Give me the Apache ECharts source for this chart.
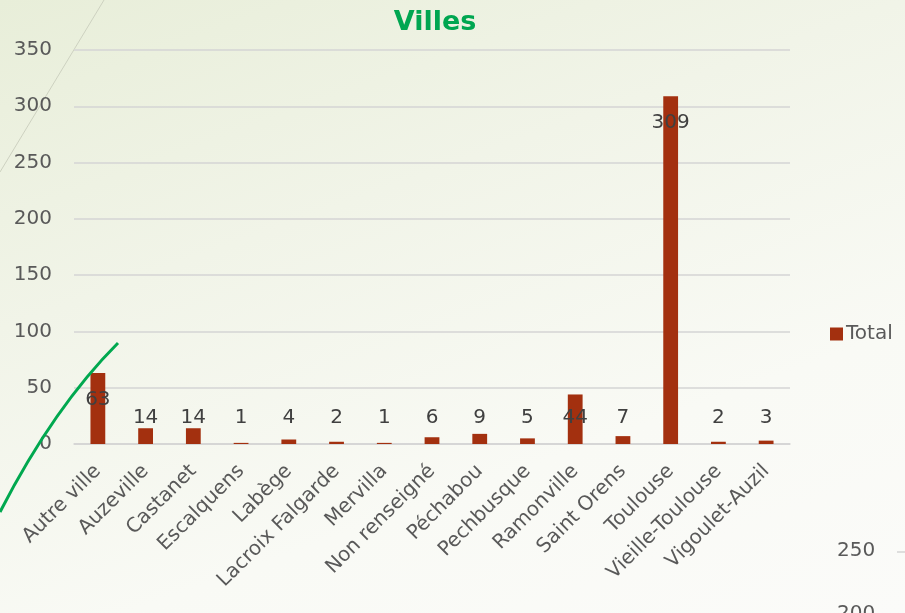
<!DOCTYPE html>
<html>
<head>
<meta charset="utf-8">
<script src="https://cdn.jsdelivr.net/npm/echarts@6/dist/echarts.min.js"></script>
<style>
  html, body { margin: 0; padding: 0; }
  #chart {
    width: 905px;
    height: 613px;
    background: linear-gradient(160deg, #e8eed9 0%, #f1f4e8 35%, #f9faf5 70%, #fbfbf9 100%);
  }
</style>
</head>
<body>
<div id="chart"></div>
<script>
// catégories et valeurs
const villes = [
  'Autre ville', 'Auzeville', 'Castanet', 'Escalquens', 'Labège',
  'Lacroix Falgarde', 'Mervilla', 'Non renseigné', 'Péchabou', 'Pechbusque',
  'Ramonville', 'Saint Orens', 'Toulouse', 'Vieille-Toulouse', 'Vigoulet-Auzil'
]
const totals = [63, 14, 14, 1, 4, 2, 1, 6, 9, 5, 44, 7, 309, 2, 3]

// graduations de l'axe Y
const yTicks = [0, 50, 100, 150, 200, 250, 300, 350]

const font = '"DejaVu Sans", sans-serif'
const grey = '#595959'

const chart = echarts.init(document.getElementById('chart'))

chart.setOption({
  title: {
    text: 'Villes',
    left: 430,
    top: 4,
    textAlign: 'center',
    textStyle: { color: '#00a651', fontSize: 27, fontWeight: 'bold', fontFamily: font }
  },
  legend: {
    left: 825,
    top: 319,
    icon: 'rect',
    itemWidth: 13,
    itemHeight: 13,
    itemGap: 4,
    textStyle: { color: grey, fontSize: 20, fontFamily: font, padding: [0, 0, 0, -2] },
    data: ['Total']
  },
  grid: { left: 74, right: 115, top: 50, bottom: 169, containLabel: false },
  xAxis: {
    type: 'category',
    data: villes,
    axisTick: { show: false },
    axisLine: { show: true, lineStyle: { color: '#d4d4d4', width: 1.5 } },
    axisLabel: {
      interval: 0,
      rotate: 45,
      margin: 24,
      color: grey,
      fontSize: 20,
      fontFamily: font
    }
  },
  yAxis: {
    type: 'value',
    min: yTicks[0],
    max: yTicks[yTicks.length - 1],
    interval: yTicks[1] - yTicks[0],
    axisLine: { show: false },
    axisTick: { show: false },
    splitLine: { lineStyle: { color: '#d4d4d4', width: 1.5 } },
    axisLabel: { color: grey, fontSize: 20, fontFamily: font, margin: 22 }
  },
  series: [
    {
      name: 'Total',
      type: 'bar',
      barWidth: '31%',
      itemStyle: { color: '#a3300f' },
      label: {
        show: true,
        color: '#404040',
        fontSize: 20,
        fontFamily: font
      },
      // étiquettes "extrémité intérieure" façon Excel
      data: totals.map(v => ({
        value: v,
        label: v > 48
          ? { position: 'insideTop', distance: 17 }
          : { position: 'insideBottom', distance: 16 }
      }))
    }
  ],
  graphic: [
    {
      type: 'line',
      silent: true,
      shape: { x1: 104, y1: 0, x2: 0, y2: 172 },
      style: { stroke: '#cdd1c0', lineWidth: 1 }
    },
    {
      type: 'bezierCurve',
      silent: true,
      z: 100,
      shape: { x1: 0, y1: 512, cpx1: 54, cpy1: 407, x2: 118, y2: 343 },
      style: { stroke: '#00a84f', lineWidth: 3, fill: null }
    },
    {
      type: 'text',
      silent: true,
      left: 837,
      top: 541,
      style: { text: '250', fill: grey, fontSize: 20, fontFamily: font }
    },
    {
      type: 'line',
      silent: true,
      shape: { x1: 897, y1: 552, x2: 905, y2: 552 },
      style: { stroke: '#d4d4d4', lineWidth: 1.5 }
    },
    {
      type: 'text',
      silent: true,
      left: 837,
      top: 604,
      style: { text: '200', fill: grey, fontSize: 20, fontFamily: font }
    }
  ]
})
</script>
</body>
</html>
